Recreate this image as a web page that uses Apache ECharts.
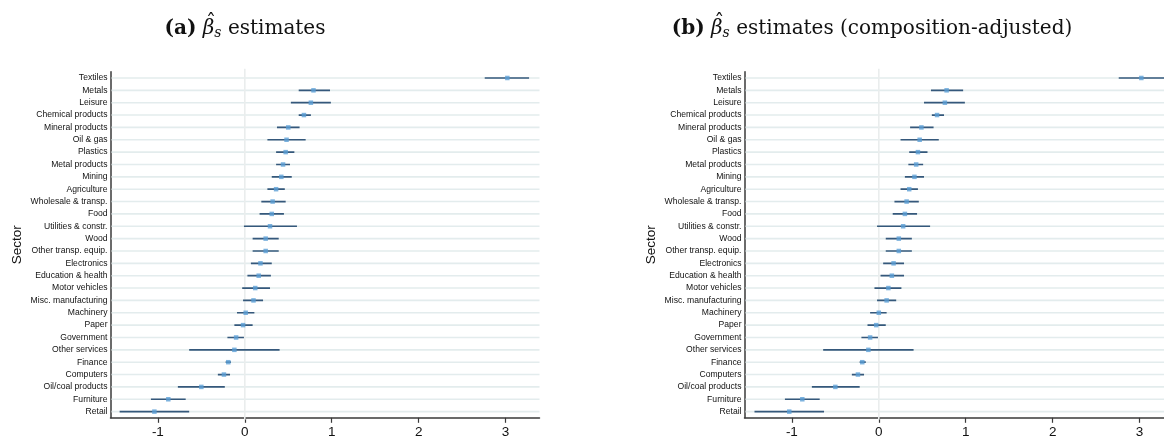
<!DOCTYPE html>
<html>
<head>
<meta charset="utf-8">
<script src="https://cdn.jsdelivr.net/npm/echarts@6/dist/echarts.min.js"></script>
<style>
html,body{margin:0;padding:0;background:#fff;}
#chart{width:1164px;height:442px;}
</style>
</head>
<body>
<div id="chart"></div>
<script>
const sectors = ['Textiles','Metals','Leisure','Chemical products','Mineral products','Oil & gas','Plastics','Metal products','Mining','Agriculture','Wholesale & transp.','Food','Utilities & constr.','Wood','Other transp. equip.','Electronics','Education & health','Motor vehicles','Misc. manufacturing','Machinery','Paper','Government','Other services','Finance','Computers','Oil/coal products','Furniture','Retail'];

const estA = [3.02,0.79,0.76,0.68,0.50,0.48,0.47,0.44,0.42,0.36,0.32,0.31,0.29,0.24,0.24,0.18,0.16,0.12,0.10,0.01,-0.02,-0.10,-0.12,-0.19,-0.24,-0.50,-0.88,-1.04];
const loA  = [2.76,0.62,0.53,0.62,0.37,0.26,0.36,0.36,0.31,0.26,0.19,0.17,-0.01,0.09,0.09,0.07,0.03,-0.03,-0.02,-0.09,-0.12,-0.20,-0.64,-0.22,-0.31,-0.77,-1.08,-1.44];
const hiA  = [3.27,0.98,0.99,0.76,0.63,0.70,0.57,0.52,0.54,0.46,0.47,0.45,0.60,0.39,0.39,0.31,0.30,0.29,0.21,0.11,0.09,-0.01,0.40,-0.16,-0.17,-0.23,-0.68,-0.64];

const estB = [3.02,0.78,0.76,0.67,0.49,0.47,0.45,0.43,0.41,0.35,0.32,0.30,0.28,0.23,0.23,0.17,0.15,0.11,0.09,0.00,-0.03,-0.10,-0.12,-0.19,-0.24,-0.50,-0.88,-1.03];
const loB  = [2.76,0.60,0.52,0.61,0.36,0.25,0.35,0.34,0.30,0.25,0.18,0.16,-0.02,0.08,0.08,0.05,0.02,-0.05,-0.02,-0.10,-0.13,-0.20,-0.64,-0.22,-0.31,-0.77,-1.08,-1.43];
const hiB  = [3.30,0.97,0.99,0.75,0.63,0.69,0.56,0.51,0.52,0.45,0.46,0.44,0.59,0.38,0.38,0.29,0.29,0.26,0.20,0.09,0.08,-0.01,0.40,-0.15,-0.17,-0.22,-0.68,-0.63];

const xTicks = [-1, 0, 1, 2, 3];
const xMin = -1.545, xMax = 3.39;
const titleParts = [
  {label: '(a)', sym: 'β', sub: 's', rest: ' estimates', cx: 245},
  {label: '(b)', sym: 'β', sub: 's', rest: ' estimates (composition-adjusted)', cx: 872}
];

const LINE = '#35587b', DOT = '#5b9fd6', GRIDC = '#e3eced', ZERO = '#eaeded', AXIS = '#3a3a3a';
const SANS = 'Liberation Sans, Arial, Helvetica, sans-serif';
const SERIF = '"DejaVu Serif", "Liberation Serif", serif';
const TFS = 20, SFS = 14, TY = 29;

const chart = echarts.init(document.getElementById('chart'), null, {renderer: 'canvas'});

function makeGrid(left) {
  return {left: left, top: 71.8, width: 429, height: 346, outerBoundsMode: 'none', containLabel: false};
}
function makeX(i) {
  return {
    type: 'value', gridIndex: i, min: xMin, max: xMax,
    axisLine: {show: true, onZero: false, lineStyle: {color: AXIS, width: 1.5}},
    axisTick: {show: true, customValues: xTicks, length: 5, lineStyle: {color: AXIS, width: 1.2}},
    axisLabel: {customValues: xTicks, color: '#111', fontSize: 13.5, fontFamily: SANS, margin: 7,
      formatter: v => String(v)},
    splitLine: {show: false}
  };
}
function makeY(i) {
  return {
    type: 'category', gridIndex: i, data: sectors, inverse: true, boundaryGap: true,
    name: 'Sector', nameLocation: 'middle', nameGap: 86, nameRotate: 90,
    nameTextStyle: {fontSize: 13.5, fontFamily: SANS, color: '#111'},
    axisLine: {show: true, onZero: false, lineStyle: {color: AXIS, width: 1.5}},
    axisTick: {show: false, length: 0},
    axisLabel: {fontSize: 8.6, fontFamily: SANS, color: '#111', margin: 3, interval: 0},
    splitLine: {show: false}
  };
}
function gridSeries(i) {
  return {
    type: 'custom', xAxisIndex: i, yAxisIndex: i, z: 1, silent: true,
    data: sectors.map((s, k) => [0, k]), encode: {x: 0, y: 1},
    renderItem: function (params, api) {
      const cs = params.coordSys;
      const y = api.coord([0, api.value(1)])[1];
      return {type: 'line', shape: {x1: cs.x + 1, y1: y, x2: cs.x + cs.width, y2: y},
        style: {stroke: GRIDC, lineWidth: 1.6}};
    }
  };
}
function zeroSeries(i) {
  return {
    type: 'custom', xAxisIndex: i, yAxisIndex: i, z: 2, silent: true,
    data: [[0, 0]], encode: {x: 0, y: 1},
    renderItem: function (params, api) {
      const cs = params.coordSys;
      const x = api.coord([api.value(0), 0])[0];
      return {type: 'line', shape: {x1: x, y1: cs.y - 3, x2: x, y2: cs.y + cs.height + 2},
        style: {stroke: ZERO, lineWidth: 1.6}};
    }
  };
}
function ciSeries(i, lo, hi) {
  return {
    type: 'custom', xAxisIndex: i, yAxisIndex: i, z: 3, silent: true,
    data: sectors.map((s, k) => [lo[k], hi[k], k]), encode: {x: [0, 1], y: 2},
    clip: true,
    renderItem: function (params, api) {
      const p1 = api.coord([api.value(0), api.value(2)]);
      const p2 = api.coord([api.value(1), api.value(2)]);
      return {type: 'line', shape: {x1: p1[0], y1: p1[1], x2: p2[0], y2: p2[1]},
        style: {stroke: LINE, lineWidth: 1.7}};
    }
  };
}
function ptSeries(i, est) {
  return {
    type: 'scatter', xAxisIndex: i, yAxisIndex: i, z: 4, silent: true,
    symbol: 'rect', symbolSize: 4.5,
    itemStyle: {color: DOT},
    data: sectors.map((s, k) => [est[k], s])
  };
}

// Title: rich text plus a circumflex placed over the beta (positions from text measurement)
const mctx = document.createElement('canvas').getContext('2d');
function tw(font, s) { mctx.font = font; return mctx.measureText(s).width; }
function titleGraphics(t) {
  const fB = 'bold ' + TFS + 'px ' + SERIF, fN = TFS + 'px ' + SERIF,
        fI = 'italic ' + TFS + 'px ' + SERIF, fS = 'italic ' + SFS + 'px ' + SERIF;
  const w1 = tw(fB, t.label), wsp = tw(fN, ' '), wb = tw(fI, t.sym), ws = tw(fS, t.sub), wr = tw(fN, t.rest);
  const total = w1 + wsp + wb + ws + wr;
  const x0 = t.cx - total / 2;
  const hatX = x0 + w1 + wsp + wb / 2 + 2.5;
  return [
    {type: 'text', x: t.cx, y: TY, z: 10, style: {
      text: '{b|' + t.label + '} {m|' + t.sym + '}{s|' + t.sub + '}' + t.rest,
      align: 'center', verticalAlign: 'middle', fill: '#111', font: fN,
      rich: {
        b: {fontWeight: 'bold', fontSize: TFS, fontFamily: SERIF},
        m: {fontStyle: 'italic', fontSize: TFS, fontFamily: SERIF},
        s: {fontStyle: 'italic', fontSize: SFS, fontFamily: SERIF, padding: [8, 0, 0, 0]}
      }}},
    {type: 'text', x: hatX, y: TY - 5, z: 11, style: {
      text: '\u02C6', align: 'center', verticalAlign: 'middle', fill: '#111', font: fN}}
  ];
}

const option = {
  animation: false,
  backgroundColor: '#fff',
  grid: [makeGrid(110.5), makeGrid(744.5)],
  xAxis: [makeX(0), makeX(1)],
  yAxis: [makeY(0), makeY(1)],
  series: [
    gridSeries(0), zeroSeries(0), ciSeries(0, loA, hiA), ptSeries(0, estA),
    gridSeries(1), zeroSeries(1), ciSeries(1, loB, hiB), ptSeries(1, estB)
  ],
  graphic: titleGraphics(titleParts[0]).concat(titleGraphics(titleParts[1]))
};
chart.setOption(option);
</script>
</body>
</html>
